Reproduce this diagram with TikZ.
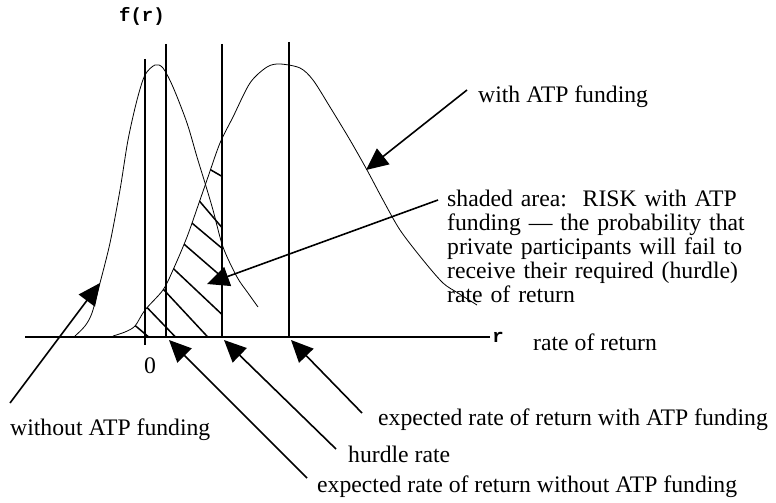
\documentclass[tikz,border=0pt]{standalone}
\usepackage{fontspec}
\setmainfont{Liberation Serif}
\setmonofont{Liberation Mono}
\usetikzlibrary{arrows.meta}

\tikzset{
  lbl/.style={anchor=base west,inner sep=0pt,font=\fontsize{23.7}{24.2}\selectfont},
  mono/.style={anchor=base,inner sep=0pt,font=\ttfamily\bfseries\fontsize{19}{20}\selectfont},
  pointer/.style={line width=1.6pt,-{Triangle[length=22pt,width=20pt]}},
  rule/.style={line width=1.5pt},
  curve/.style={line width=0.8pt,line join=round},
  hatch/.style={line width=1.5pt}
}

\begin{document}
\begin{tikzpicture}[x=1pt,y=-1pt]
\useasboundingbox (0,0) rectangle (776,503);

% the two densities (pixel coordinates, y downwards)
\def\wocurve{plot[smooth,tension=0.5] coordinates {(75,336) (85,326) (92,313) (100,283) (110,243) (120,190)
  (128,140) (137,100) (145,75) (155,65) (163,68) (173,87) (187,123) (197,157) (205,183)
  (213,210) (223,247) (237,277) (248,293) (258,307)}}
\def\withcurve{plot[smooth,tension=0.5] coordinates {(113,336) (125,332) (135,326) (145,310) (163,290)
  (173,270) (187,237) (200,200) (208,177) (220,143) (233,117) (250,83) (267,67) (280,64)
  (300,68) (313,80) (330,107) (350,140) (367,170) (383,200) (400,230) (423,260) (443,283)
  (458,293) (477,305)}}

\coordinate (ezero) at (145,337);
\coordinate (ewo) at (166,337);
\coordinate (hurdle) at (222,337);
\coordinate (ewith) at (289,337);

% shaded area: under the ATP curve, left of the hurdle rate
\begin{scope}
  \clip (0,0) rectangle (hurdle);
  \clip \withcurve -- (477,337) -- (113,337) -- cycle;
  \foreach \xa/\ya/\xb/\yb in {204/166/230/181,190/190/230/237,180/213/230/255,
                     170/232/230/284,160/256/230/322,150/275/218/348,
                     135/295/187/349,125/317/157/344}
    \draw[hatch] (\xa,\ya) -- (\xb,\yb);
\end{scope}

\draw[curve] \wocurve;
\draw[curve] \withcurve;

% axis and the four vertical lines
\draw[rule] (25,337) -- (490,337);
\draw[rule] (145,59) -- (145,345);
\draw[rule] (ewo |- 0,44) -- (ewo);
\draw[rule] (hurdle |- 0,44) -- (hurdle);
\draw[rule] (ewith |- 0,42) -- (ewith);

\node[mono] (flbl) at (142,22) {f(r)};
\node[mono] (rlbl) at (498,342) {r};
\node[lbl] (ratelbl) at (533,350) {rate of return};
\node[lbl,anchor=base] (zerolbl) at (150,373) {0};

% labels
\node[lbl] (withlbl) at (478,102) {with ATP funding};
\node[lbl,text width=330pt,align=left] (risklbl) at (447,206)
  {shaded area:\ \ RISK with ATP\\ funding --- the probability that\\ private participants will fail to\\
   receive their required (hurdle)\\ rate of return};
\node[lbl] (wolbl) at (10,435) {without ATP funding};
\node[lbl] (ewithlbl) at (378,425) {expected rate of return with ATP funding};
\node[lbl] (hurdlelbl) at (348,462) {hurdle rate};
\node[lbl] (ewolbl) at (317,492) {expected rate of return without ATP funding};

% arrow ends
\coordinate (withtail) at (467,90);   \coordinate (withtip) at (366,170);
\coordinate (risktail) at (438,200);  \coordinate (risktip) at (207,284);
\coordinate (wotail) at (10,403);     \coordinate (wotip) at (100,283);
\coordinate (ewotail) at (307,478);   \coordinate (ewotip) at (169,340);
\coordinate (hurdletail) at (336,449);\coordinate (hurdletip) at (224,340);
\coordinate (ewithtail) at (362,413); \coordinate (ewithtip) at (291,340);

\draw[pointer] (withtail) -- (withtip);
\draw[pointer] (risktail) -- (risktip);
\draw[pointer] (wotail) -- (wotip);
\draw[pointer] (ewotail) -- (ewotip);
\draw[pointer] (hurdletail) -- (hurdletip);
\draw[pointer] (ewithtail) -- (ewithtip);
\end{tikzpicture}
\end{document}
